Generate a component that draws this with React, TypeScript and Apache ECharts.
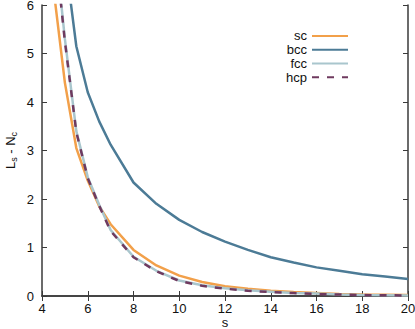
import React, { useEffect, useRef } from "react";
import * as echarts from "echarts";

const sValues = [4, 4.5, 5, 5.5, 6, 6.5, 7, 8, 9, 10, 11, 12, 13, 14, 15, 16, 17, 18, 19, 20];
const scValues = [8.5, 6.35, 4.4, 3.05, 2.38, 1.85, 1.48, 0.95, 0.63, 0.42, 0.29, 0.2, 0.15, 0.11, 0.08, 0.06, 0.04, 0.03, 0.025, 0.02];
const bccValues = [11.5, 9.3, 7.0, 5.15, 4.2, 3.6, 3.12, 2.34, 1.9, 1.57, 1.32, 1.12, 0.95, 0.8, 0.69, 0.59, 0.52, 0.45, 0.4, 0.35];
const fccValues = [10.5, 7.6, 5.3, 3.4, 2.45, 1.88, 1.36, 0.81, 0.52, 0.32, 0.22, 0.16, 0.12, 0.09, 0.06, 0.05, 0.03, 0.02, 0.015, 0.01];
const hcpValues = [10.4, 7.5, 5.25, 3.38, 2.43, 1.86, 1.34, 0.8, 0.51, 0.31, 0.21, 0.15, 0.11, 0.08, 0.06, 0.04, 0.03, 0.02, 0.015, 0.01];
const seriesNames = ["sc", "bcc", "fcc", "hcp"];
const seriesColors = ["#f2a04a", "#4c7b96", "#a9c6cd", "#6f3a5f"];

const FONT = "Liberation Sans";
const AXIS = "#3a3a3a";

export default function App() {
  const ref = useRef<HTMLDivElement>(null);
  useEffect(() => {
    const chart = echarts.init(ref.current!, null, { renderer: "svg" });
    const all = [scValues, bccValues, fccValues, hcpValues];
    const series = all.map((vals, i) => ({
      name: seriesNames[i],
      type: "line",
      data: sValues.map((s, j) => [s, vals[j]]),
      showSymbol: false,
      symbol: "none",
      clip: true,
      lineStyle: {
        color: seriesColors[i],
        width: 2.5,
        type: i === 3 ? [7, 8] : "solid",
      },
      itemStyle: { color: seriesColors[i] },
    }));
    const axisCommon = {
      axisLine: { show: true, lineStyle: { color: AXIS, width: 1.5 } },
      axisTick: { show: true, inside: true, length: 5, lineStyle: { color: AXIS, width: 1 } },
      splitLine: { show: false },
    };
    chart.setOption({
      animation: false,
      grid: { left: 42, right: 7, top: 5, bottom: 33, outerBoundsMode: "none", containLabel: false },
      legend: {
        orient: "vertical",
        right: 61,
        top: 24,
        align: "right",
        itemWidth: 36,
        itemHeight: 10,
        itemGap: 0,
        itemStyle: { opacity: 0 },
        textStyle: { fontFamily: FONT, fontSize: 13, color: "#111", lineHeight: 13.8, padding: [0, 0, 0, 0] },
        data: seriesNames,
      },
      xAxis: [
        {
          type: "value",
          min: 4,
          max: 20,
          interval: 2,
          name: "s",
          nameLocation: "middle",
          nameGap: 20,
          nameMoveOverlap: false,
          nameTextStyle: { fontFamily: FONT, fontSize: 13, color: "#111" },
          axisLabel: { fontFamily: FONT, fontSize: 13, color: "#111", margin: 6 },
          ...axisCommon,
        },
        {
          type: "value",
          position: "top",
          min: 4,
          max: 20,
          interval: 2,
          axisLabel: { show: false },
          ...axisCommon,
        },
      ],
      yAxis: [
        {
          type: "value",
          min: 0,
          max: 6,
          interval: 1,
          name: "L{sub|s} - N{sub|c}",
          nameLocation: "middle",
          nameGap: 24,
          nameMoveOverlap: false,
          nameTextStyle: {
            fontFamily: FONT,
            fontSize: 13,
            color: "#111",
            rich: { sub: { fontFamily: FONT, fontSize: 9, color: "#111", verticalAlign: "bottom", padding: [6, 0, 0, 0] } },
          },
          axisLabel: { fontFamily: FONT, fontSize: 13, color: "#111", margin: 8 },
          ...axisCommon,
        },
        {
          type: "value",
          position: "right",
          min: 0,
          max: 6,
          interval: 1,
          axisLabel: { show: false },
          ...axisCommon,
        },
      ],
      series,
    });
    return () => chart.dispose();
  }, []);
  return <div ref={ref} style={{ width: 415, height: 329, position: "absolute", left: 0, top: 0 }} />;
}
